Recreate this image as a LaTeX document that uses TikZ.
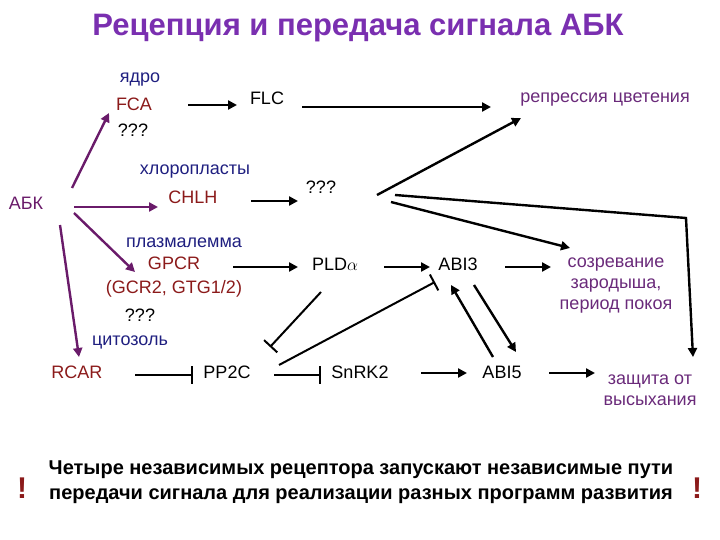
\documentclass[tikz,border=0pt]{standalone}
\usepackage{fontspec}
\setmainfont{Liberation Sans}
\usetikzlibrary{arrows.meta}
\definecolor{ttl}{HTML}{7A2FB0}
\definecolor{loc}{HTML}{1F1F80}
\definecolor{gen}{HTML}{8B1A1A}
\definecolor{res}{HTML}{6A2A7A}
\definecolor{abk}{HTML}{6A1B6A}
\begin{document}
\begin{tikzpicture}[x=1pt,y=-1pt,
  lbl/.style={font=\fontsize{18}{21}\selectfont,inner sep=0pt,align=center},
  ar/.style={line width=2.4pt,-{Triangle[length=9pt,width=9pt]}},
  pa/.style={ar,color=abk},
  inh/.style={line width=2pt,-{Bar[width=18pt,line width=2pt]}}]
\useasboundingbox (0,0) rectangle (720,540);
\node[font=\bfseries\fontsize{31}{34}\selectfont,text=ttl] (title) at (358,28) {Рецепция и передача сигнала АБК};
\node[lbl,text=loc] (yadro) at (140,80) {ядро};
\node[lbl,text=gen] (fca) at (134,104) {FCA};
\node[lbl] (q1) at (133,130) {???};
\node[lbl] (flc) at (267,98) {FLC};
\node[lbl,text=res] (rep) at (605,100) {репрессия цветения};
\node[lbl,text=loc] (chl) at (195,172) {хлоропласты};
\node[lbl,text=gen] (chlh) at (193,197) {CHLH};
\node[lbl,text=abk] (abk) at (26,203) {АБК};
\node[lbl] (q2) at (321,187) {???};
\node[lbl,text=loc] (plaz) at (184,243) {плазмалемма};
\node[lbl,text=gen] (gpcr) at (174,263) {GPCR};
\node[lbl,text=gen] (gcr) at (174,289) {(GCR2, GTG1/2)};
\node[lbl] (q3) at (140,315) {???};
\node[lbl,text=loc] (cyt) at (130,342) {цитозоль};
\node[lbl] (pld) at (335,264) {PLD$\alpha$};
\node[lbl] (abi3) at (458,264) {ABI3};
\node[lbl,text=res] (soz) at (616,286) {созревание\\зародыша,\\период покоя};
\node[lbl,text=gen] (rcar) at (77,372) {RCAR};
\node[lbl] (pp2c) at (227,372) {PP2C};
\node[lbl] (snrk) at (360,372) {SnRK2};
\node[lbl] (abi5) at (502,372) {ABI5};
\node[lbl,text=res] (zas) at (650,390) {защита от\\высыхания};
\coordinate (corner) at (686,218);
% purple arrows
\draw[pa] (72,188) -- (109,113);
\draw[pa] (74,207) -- (158,207);
\draw[pa] (74,213) -- (135,272);
\draw[pa] (60,225) -- (79,357);
% black arrows
\draw[ar] (188,105) -- (237,105);
\draw[ar] (302,107) -- (491,107);
\draw[ar] (251,201) -- (298,201);
\draw[ar] (377,195) -- (521,118);
\draw[ar] (395,195) -- (corner) -- (693,357);
\draw[ar] (391,202) -- (570,248);
\draw[ar] (233,267) -- (298,267);
\draw[ar] (384,267) -- (430,267);
\draw[ar] (505,267) -- (551,267);
\draw[inh] (321,292) -- (270,347);
\draw[inh] (279,365) -- (435,282);
\draw[ar] (493,357) -- (451,285);
\draw[ar] (474,285) -- (516,352);
\draw[inh] (135,375) -- (193,375);
\draw[inh] (274,375) -- (321,375);
\draw[ar] (421,373) -- (467,373);
\draw[ar] (549,373) -- (595,373);
% bottom
\node[font=\bfseries\fontsize{20}{25}\selectfont,align=center,inner sep=0pt] (note) at (361,482) {Четыре независимых рецептора запускают независимые пути\\передачи сигнала для реализации разных программ развития};
\node[font=\bfseries\fontsize{30}{30}\selectfont,text=gen,inner sep=0pt] (ex1) at (22,488) {!};
\node[font=\bfseries\fontsize{30}{30}\selectfont,text=gen,inner sep=0pt] (ex2) at (697,488) {!};
\end{tikzpicture}
\end{document}
